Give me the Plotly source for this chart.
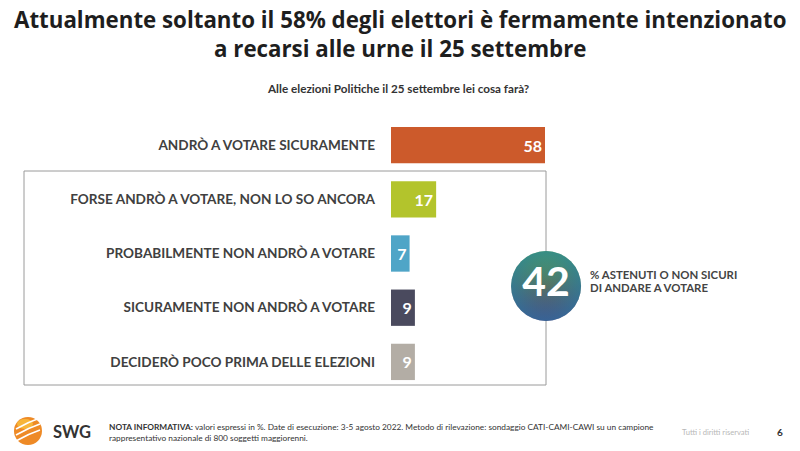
import plotly.graph_objects as go

# ---------------- data ----------------
categories = [
    "ANDRÒ A VOTARE SICURAMENTE",
    "FORSE ANDRÒ A VOTARE, NON LO SO ANCORA",
    "PROBABILMENTE NON ANDRÒ A VOTARE",
    "SICURAMENTE NON ANDRÒ A VOTARE",
    "DECIDERÒ POCO PRIMA DELLE ELEZIONI",
]
values = [58, 17, 7, 9, 9]
bar_colors = ["#CC5A2B", "#B3C42C", "#4FA5C7", "#4A4A5E", "#B3ADA5"]
uncertain_total = sum(values[1:])  # 42

title_lines = [
    "Attualmente soltanto il 58% degli elettori è fermamente intenzionato",
    "a recarsi alle urne il 25 settembre",
]
subtitle = "Alle elezioni Politiche il 25 settembre lei cosa farà?"
badge_caption = ["% ASTENUTI O NON SICURI", "DI ANDARE A VOTARE"]
note_lines = [
    "<b>NOTA INFORMATIVA:</b> valori espressi in %. Date di esecuzione: 3-5 agosto 2022. Metodo di rilevazione: "
    "sondaggio CATI-CAMI-CAWI su un campione",
    "rappresentativo nazionale di 800 soggetti maggiorenni.",
]
rights = "Tutti i diritti riservati"
page_no = "6"
brand = "SWG"

# ---------------- geometry ----------------
W, H = 800, 451
L, R, T, B = 391, 0, 118, 62
PW, PH = W - L - R, H - T - B
px_per_unit = 154 / 58
x_max = PW / px_per_unit


def px(xp):
    return (xp - L) / PW


def py(yp):
    return 1 - (yp - T) / PH


FONT = "Lato"
TFONT = "Open Sans"

fig = go.Figure()

idx = list(range(len(categories)))
fig.add_trace(go.Bar(
    x=values, y=idx, orientation="h",
    marker=dict(color=bar_colors, line=dict(width=0)),
    width=0.67,
    text=[str(v) for v in values],
    textposition="inside", insidetextanchor="end",
    constraintext="none",
    textfont=dict(family=FONT, size=16, color="white", weight="bold"),
    hoverinfo="skip",
))

# badge circle placed at the end of the leading bar, centred on the boxed rows
box_mid = (1 + len(categories) - 1) / 2
bx, by = values[0] + 0.4, box_mid + 0.1
fig.add_trace(go.Scatter(
    x=[bx], y=[by], mode="markers",
    marker=dict(size=70, color="#55A650",
                gradient=dict(type="vertical", color="#563E78"),
                line=dict(width=0)),
    cliponaxis=False, hoverinfo="skip", showlegend=False,
))
fig.add_trace(go.Scatter(
    x=[bx], y=[by], mode="markers+text",
    marker=dict(size=70, color="rgba(35,125,170,0.6)",
                gradient=dict(type="radial", color="rgba(35,125,170,0)"),
                line=dict(width=0)),
    text=[f"<b>{uncertain_total}</b>"], textposition="middle center",
    textfont=dict(family=FONT, size=41, color="white"),
    cliponaxis=False, hoverinfo="skip", showlegend=False,
))

shapes = []
# box around uncertain answers
shapes.append(dict(type="rect", xref="paper", yref="paper",
                   x0=px(24), x1=px(546), y0=py(385), y1=py(171),
                   line=dict(color="#9a9a9a", width=1), layer="below"))
# SWG logo
cx, cy, r = 28, 431, 14
shapes.append(dict(type="circle", xref="paper", yref="paper",
                   x0=px(cx - r), x1=px(cx + r), y0=py(cy + r), y1=py(cy - r),
                   fillcolor="#EE8A26", line=dict(width=0)))
shapes.append(dict(type="circle", xref="paper", yref="paper",
                   x0=px(cx - r + 3), x1=px(cx + r - 9), y0=py(cy - 2), y1=py(cy - r + 2),
                   fillcolor="#F7B53A", line=dict(width=0)))
for off in (-6, 0, 6):
    shapes.append(dict(type="path", xref="paper", yref="paper",
                       path=(f"M {px(cx - 12)} {py(cy + off + 4)} "
                             f"Q {px(cx)} {py(cy + off - 3)} {px(cx + 12)} {py(cy + off - 7)}"),
                       line=dict(color="white", width=1.6)))

annotations = []


def ann(x, y, text, size, color, xanchor="left", font=FONT):
    annotations.append(dict(xref="paper", yref="paper", x=px(x), y=py(y), text=text,
                            showarrow=False, xanchor=xanchor, yanchor="middle", align="left",
                            font=dict(family=font, size=size, color=color)))


ann(400, 19, f"<b>{title_lines[0]}</b>", 22.3, "#1e1e1e", "center", TFONT)
ann(400, 48.5, f"<b>{title_lines[1]}</b>", 22.3, "#1e1e1e", "center", TFONT)
ann(398, 88, f"<b>{subtitle}</b>", 11.7, "#333333", "center")
ann(588, 274, f"<b>{badge_caption[0]}</b>", 11.4, "#444444")
ann(588, 287, f"<b>{badge_caption[1]}</b>", 11.4, "#444444")
ann(51, 432, f"<b>{brand}</b>", 16.5, "#333333")
ann(107, 427, note_lines[0], 8.3, "#333333")
ann(107, 438, note_lines[1], 8.3, "#333333")
ann(752, 432, rights, 7.6, "#b8b8b8", "right")
ann(780, 432, f"<b>{page_no}</b>", 10, "#333333", "center")

fig.update_layout(
    width=W, height=H,
    margin=dict(l=L, r=R, t=T, b=B, pad=0),
    paper_bgcolor="white", plot_bgcolor="white",
    showlegend=False,
    xaxis=dict(range=[0, x_max], visible=False, fixedrange=True),
    yaxis=dict(range=[len(categories) - 0.5, -0.5], tickmode="array",
               tickvals=idx, ticktext=[f"<b>{c}</b>" for c in categories],
               ticks="", showline=False, showgrid=False, zeroline=False,
               ticklabelstandoff=15, fixedrange=True,
               tickfont=dict(family=FONT, size=13.6, color="#404040")),
    shapes=shapes,
    annotations=annotations,
)

fig.write_html("out.html", config={"displayModeBar": False},
               post_script="document.body.style.margin='0px';")
